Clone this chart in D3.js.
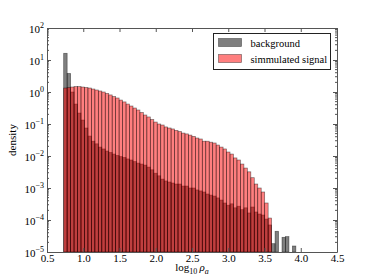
<!DOCTYPE html>
<html>
<head>
<meta charset="utf-8">
<script src="https://cdn.jsdelivr.net/npm/d3@7"></script>
<style>
  body { margin: 0; background: #fff; }
  svg text { font-family: "Liberation Serif", "DejaVu Serif", serif; fill: #000; }
</style>
</head>
<body>
<div id="viz"></div>
<script>
// histogram bins (log10 rho_a)
const binStart = 0.73;
const binWidth = 0.0478;

// density per bin
const background = [
  16.2, 3.8, 1.0, 0.42, 0.22, 0.133, 0.075, 0.042, 0.029, 0.024,
  0.019, 0.0166, 0.0143, 0.0129, 0.0115, 0.0104, 0.0096, 0.0090, 0.0081, 0.0075,
  0.0067, 0.0060, 0.0056, 0.0052, 0.0045, 0.0037, 0.0029, 0.0024, 0.0019, 0.00166,
  0.00154, 0.00143, 0.00133, 0.00133, 0.00115, 0.00115, 0.0010, 0.0010, 0.00087, 0.00081,
  0.00075, 0.00065, 0.00060, 0.00056, 0.00049, 0.00042, 0.00034, 0.00029, 0.00032, 0.00024,
  0.00027, 0.00021, 0.00024, 0.000166, 0.000255, 0.000178, 0.000154, 0.000143, 0.000107, 0.000070,
  0.0000182, 0.0000444, 0, 0.0000288, 0.0000302, 0, 0.0000154
];
const signal = [
  1.33, 1.38, 1.43, 1.47, 1.47, 1.43, 1.38, 1.33, 1.24, 1.155,
  1.075, 1.0, 0.90, 0.81, 0.72, 0.65, 0.56, 0.49, 0.42, 0.365,
  0.316, 0.274, 0.229, 0.191, 0.166, 0.138, 0.115, 0.10, 0.093, 0.081,
  0.075, 0.070, 0.063, 0.058, 0.052, 0.049, 0.045, 0.041, 0.0365, 0.034,
  0.029, 0.029, 0.027, 0.0255, 0.022, 0.019, 0.0166, 0.0133, 0.0115, 0.0087,
  0.0075, 0.0056, 0.0042, 0.0032, 0.0021, 0.00133, 0.0010, 0.00075, 0.00034, 0.000115
];

const xTicks = [0.5, 1.0, 1.5, 2.0, 2.5, 3.0, 3.5, 4.0, 4.5];
const yExponents = [-5, -4, -3, -2, -1, 0, 1, 2];
const seriesNames = ['background', 'simmulated signal'];
const seriesColors = ['#000000', '#ff0000'];

const margin = { top: 28, right: 37, bottom: 28, left: 47 };
const width = 290;
const height = 224;
const serif = '"Liberation Serif", "DejaVu Serif", serif';

const svg = d3.select('#viz').append('svg')
  .attr('width', 374)
  .attr('height', 280)
  .attr('font-family', serif);

const g = svg.append('g')
  .attr('transform', `translate(${margin.left},${margin.top})`);

const x = d3.scaleLinear().domain([0.5, 4.5]).range([0, width]);
const y = d3.scaleLog().domain([1e-5, 1e2]).range([height, 0]);

// bars
function drawHist(values, color) {
  const data = values.map((v, i) => ({ x0: binStart + i * binWidth, x1: binStart + (i + 1) * binWidth, v }))
    .filter(d => d.v > 0);
  g.append('g').selectAll('rect')
    .data(data)
    .join('rect')
    .attr('x', d => x(d.x0))
    .attr('width', d => x(d.x1) - x(d.x0))
    .attr('y', d => y(d.v))
    .attr('height', d => height - y(d.v))
    .attr('fill', color)
    .attr('fill-opacity', 0.5)
    .attr('stroke', '#000')
    .attr('stroke-opacity', 0.5)
    .attr('stroke-width', 0.7);
}
drawHist(background, seriesColors[0]);
drawHist(signal, seriesColors[1]);

// minor ticks for log axis
const minor = [];
for (let e = -5; e < 2; e++) for (let m = 2; m < 10; m++) minor.push(m * Math.pow(10, e));

const axisColor = '#555';

function styleAxis(sel) {
  sel.attr('font-family', null);
  sel.selectAll('.domain').attr('stroke', axisColor).attr('stroke-width', 1);
  sel.selectAll('.tick line').attr('stroke', axisColor);
}

// bottom
const xb = g.append('g')
  .attr('transform', `translate(0,${height})`)
  .call(d3.axisBottom(x).tickValues(xTicks).tickSize(-4).tickSizeOuter(0).tickPadding(2).tickFormat(d3.format('.1f')));
xb.selectAll('text').attr('font-size', 11);
styleAxis(xb);

// top
const xt = g.append('g')
  .call(d3.axisTop(x).tickValues(xTicks).tickSize(-4).tickSizeOuter(0).tickFormat(''));
styleAxis(xt);

// left
const yl = g.append('g')
  .call(d3.axisLeft(y).tickValues(yExponents.map(e => Math.pow(10, e))).tickSize(-4).tickSizeOuter(0).tickFormat(''));
styleAxis(yl);
g.append('g').selectAll('line').data(minor).join('line')
  .attr('x1', 0).attr('x2', 2)
  .attr('y1', d => y(d)).attr('y2', d => y(d))
  .attr('stroke', axisColor);

// right
const yr = g.append('g')
  .attr('transform', `translate(${width},0)`)
  .call(d3.axisRight(y).tickValues(yExponents.map(e => Math.pow(10, e))).tickSize(-4).tickSizeOuter(0).tickFormat(''));
styleAxis(yr);
g.append('g').selectAll('line').data(minor).join('line')
  .attr('x1', width).attr('x2', width - 2)
  .attr('y1', d => y(d)).attr('y2', d => y(d))
  .attr('stroke', axisColor);

// y tick labels 10^e
const ylab = g.append('g').selectAll('text')
  .data(yExponents)
  .join('text')
  .attr('x', -3)
  .attr('y', d => y(Math.pow(10, d)) + 4.5)
  .attr('text-anchor', 'end')
  .attr('font-size', 11);
ylab.append('tspan').text('10');
ylab.append('tspan')
  .attr('dy', -4.5)
  .attr('font-size', 8)
  .text(d => d < 0 ? '\u2212' + (-d) : String(d));

// axis labels
svg.append('text')
  .attr('transform', `translate(16,${margin.top + height / 2}) rotate(-90)`)
  .attr('text-anchor', 'middle')
  .attr('font-size', 11)
  .text('density');

const xl = svg.append('text')
  .attr('x', margin.left + width / 2)
  .attr('y', 271)
  .attr('text-anchor', 'middle')
  .attr('font-size', 11);
xl.append('tspan').text('log');
xl.append('tspan').attr('font-size', 8).attr('dy', 2.5).text('10');
xl.append('tspan').attr('dy', -2.5).text('\u2009');
xl.append('tspan').attr('font-style', 'italic').text('\u03c1');
xl.append('tspan').attr('font-size', 8).attr('dy', 2.5).attr('font-style', 'italic').text('a');

// legend
const legend = svg.append('g').attr('transform', 'translate(213.5,33.5)');
legend.append('rect')
  .attr('width', 117).attr('height', 36)
  .attr('fill', '#fff').attr('stroke', '#222').attr('stroke-width', 1);
const items = legend.selectAll('g.item')
  .data(seriesNames)
  .join('g')
  .attr('class', 'item')
  .attr('transform', (d, i) => `translate(5,${5 + i * 16})`);
items.append('rect')
  .attr('width', 23).attr('height', 8)
  .attr('fill', (d, i) => seriesColors[i])
  .attr('fill-opacity', 0.5)
  .attr('stroke', '#000').attr('stroke-opacity', 0.5).attr('stroke-width', 0.7);
items.append('text')
  .attr('x', 32).attr('y', 8)
  .attr('font-size', 10.5)
  .text(d => d);
</script>
</body>
</html>
